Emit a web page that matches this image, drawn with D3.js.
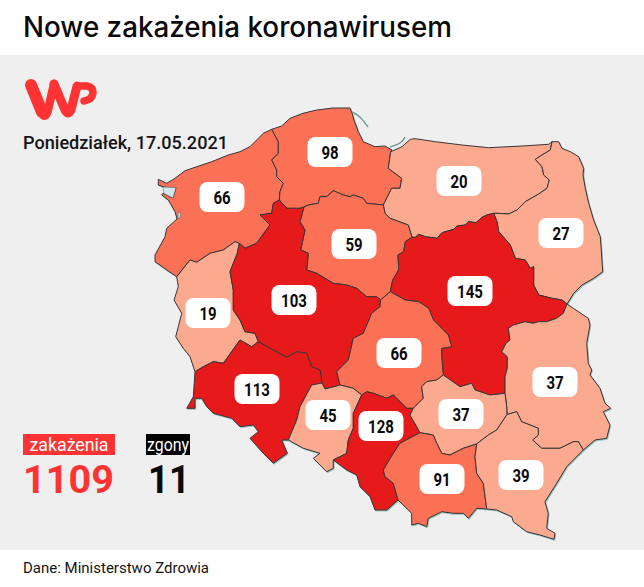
<!DOCTYPE html>
<html><head><meta charset="utf-8">
<script src="https://cdn.jsdelivr.net/npm/d3@7/dist/d3.min.js"></script>
<style>html,body{margin:0;padding:0;background:#fff}svg{display:block}text{font-family:Roboto,sans-serif}</style>
</head><body><svg id="c" width="644" height="587"></svg>
<script>
const titleText = "Nowe zakażenia koronawirusem";
const dateText = "Poniedziałek, 17.05.2021";
const sourceText = "Dane: Ministerstwo Zdrowia";
const infectionsLabel = "zakażenia", deathsLabel = "zgony";
const infectionsTotal = 1109, deathsTotal = 11;

const regionNames = ["zachodniopomorskie","pomorskie","warmińsko-mazurskie","podlaskie","kujawsko-pomorskie","mazowieckie","lubuskie","wielkopolskie","łódzkie","lubelskie","dolnośląskie","opolskie","śląskie","świętokrzyskie","małopolskie","podkarpackie"];
const regionCases = [66,98,20,27,59,145,19,103,66,37,113,45,128,37,91,39];
const labelX = [222,330,459,561,354,470,208,294,399,555,257,328,381,461,442,521];
const labelY = [197,152,181,233,244,291,313,300,353,382,389,415,426,414,479,475];

// Shared borders (pixel space of the map)
const coastZach = [[271.7,129.3],[263.3,133.3],[250,146.7],[240,151.7],[228.3,155],[211.7,161.7],[185,170.7],[175,178.3],[166.7,183.3],[158.3,179.3],[158.3,185],[165,187.3],[176,188],[173,198],[163,193.3],[161.7,195],[168.3,200],[175,211.7],[177,219],[166.7,228.3],[165,236.7],[155,255],[155,261.7],[166.7,270],[176.7,276.7]];
const zachLub = [[176.7,276.7],[190,260],[196.7,262.3],[210,253.3],[223.3,250],[235,241.7],[239.3,243.3]];
const zachWielk = [[239.3,243.3],[245,248.3],[256.7,243.3],[265,231.7],[270,225],[260,215],[271.7,213.3],[273.3,203.3],[279.3,200]];
const zachPom = [[279.3,200],[280,191.7],[283.3,183.3],[276.7,176.7],[276.7,170],[271.7,160],[278.3,153.3],[278.3,141.7],[271.7,129.3]];
const lubWielk = [[239.3,243.3],[237.3,253.3],[230,271.7],[233.3,290],[233.3,310],[240,320],[245,331.7],[255,333.3],[258.3,341.7]];
const lubDol = [[258.3,341.7],[251.7,346.7],[240,340],[223.3,363.3],[213.3,361.7],[203.3,366.7],[195,371.7]];
const outerLub = [[195,371.7],[190,356.7],[183.3,348.3],[175.7,336.7],[178.3,326.7],[181.7,313.3],[174,300],[178.3,286.7],[176.7,276.7]];
const wielkPom = [[279.3,200],[286.7,208.3],[300,208.3],[304,207]];
const wielkKuj = [[304,207],[300,221.7],[305,230],[300.7,250],[308.3,253.3],[306.7,270],[316.7,273.3],[333.3,283.3],[346.7,285],[356.7,288.3],[366.7,296.7],[376.7,296.7],[380.5,300]];
const wielkLodz = [[380.5,300],[380,306.7],[371.7,313.3],[363.3,333.3],[353.3,338.3],[348.3,360],[336.7,371.7],[340,385]];
const wielkOpole = [[340,385],[336.7,386],[325,389],[322,383]];
const wielkDol = [[258.3,341.7],[273.3,350],[286.7,357.3],[296.7,351.7],[306.7,353.3],[311.7,366.7],[320,370],[322,383]];
const opoleDol = [[288.3,440],[296.7,420],[300,406.7],[311.7,385],[322,383]];
const lodzOpole = [[340,385],[353.3,388.3],[361.7,395]];
const opoleSl = [[361.7,395],[353.3,413.3],[353.3,428.3],[348.3,440],[346.7,453.3],[333.3,460]];
const outerOpole = [[333.3,460],[333.3,468.3],[326.7,471.7],[313.3,458.3],[320,453.3],[303.3,448.3],[288.3,440]];
const outerDol = [[288.3,440],[281.7,440],[287.3,453.3],[273.3,463.3],[263.3,453.3],[250,438.3],[258.3,431.7],[253.3,425],[240,426.7],[231.7,418.3],[213.3,413.3],[206.7,406.7],[201.7,398.3],[195,398.3],[195,408.3],[186.7,408.3],[193.3,396.7],[195,371.7]];
const coastPom = [[271.7,129.3],[281.7,126],[290,118.3],[303,113.3],[316.7,110],[333,108],[350,108],[352.3,114],[354,120],[358.3,131.7],[363.3,141.7],[375,146.7],[385,146],[392,150],[390.7,151.7]];
const pomWarm = [[390.7,151.7],[388.3,168.3],[401.7,178.3],[400,188.3],[391.7,188.3],[383.3,205]];
const pomKuj = [[383.3,205],[366.7,203.3],[363.3,198.3],[353.3,195],[350,196.7],[343.3,195],[333.3,190.7],[326.7,196.7],[320,196.7],[318.3,203.3],[308.3,205],[304,207]];
const kujWarm = [[383.3,205],[385,213.3],[390,218.3],[408.3,225],[412,237.3]];
const kujMaz = [[412,237.3],[405.3,241.7],[403.7,251.7],[398,255],[398.7,270],[392.7,280],[390.3,291.7]];
const kujLodz = [[390.3,291.7],[380.5,300]];
const coastWarm = [[390.7,151.7],[402,146.7],[410.3,139.3],[415.3,138.7],[435.3,141.7],[462,145],[488.7,147.7],[522,146],[548.7,144.3],[552,141.7]];
const warmPod = [[552,141.7],[550.3,150],[542,155],[535.3,159.3],[542,166.7],[543.7,175],[549.3,180],[547,188.3],[538.7,194],[525.3,201.7],[517,210],[508.7,214],[497,213.3],[493.7,213.3]];
const warmMaz = [[493.7,213.3],[487,215],[482,217.3],[476,222.7],[468.7,221.7],[465.3,225],[457,226],[453.7,229.3],[442,232.7],[437,238.3],[425.3,236.7],[418.7,234.3],[415.3,237.3],[412,237.3]];
const coastPod = [[552,141.7],[558.7,141.7],[562,148.3],[570.3,151.7],[578.7,156.7],[583.7,168.3],[583,175],[585.3,188.3],[588.7,203.3],[593.7,220],[600.3,236.7],[601.3,250],[602.7,271.7],[593.7,278.3],[582,285],[573.7,293.3],[567,304]];
const podMaz = [[493.7,213.3],[497,221.7],[498.7,231.7],[510.3,245],[515.3,258.3],[525.3,260],[530.3,268.3],[533.7,266.7],[533.7,285],[538.7,295],[552,298.3],[562,300],[567,304]];
const mazLub = [[567,304],[563.3,313.3],[556.7,318.3],[546.7,321.7],[538.3,321.7],[533.3,323.3],[525,321.7],[513.3,325],[508.3,328.3],[510,340],[506,343.3],[501.7,351.7],[507.3,356.7],[507.3,368.3],[505,376.7],[505,393.3]];
const mazSw = [[505,393.3],[490,395],[475,390],[471.7,383.3],[460,386.7],[443.3,375]];
const mazLodz = [[443.3,375],[441.7,356.7],[441.7,348.3],[451.7,346.7],[448.3,335],[433.5,320],[428.7,308.3],[418.7,301.7],[405.3,300],[390.3,291.7]];
const lodzSl = [[361.7,395],[366.7,391.7],[373.3,393.3],[386.7,398.3],[393.3,395],[400,401.7],[406.7,408.3],[413.3,408.3]];
const lodzSw = [[413.3,408.3],[423.3,398.3],[421.7,386.7],[426.7,381.7],[436.7,380],[443.3,375]];
const slSw = [[413.3,408.3],[410,415],[416.7,426.7],[420,432.7]];
const outerSl = [[333.3,460],[346.7,470],[356.7,475],[360,486.7],[370,496.7],[375,510],[386.7,510],[398,500]];
const slMal = [[398,500],[393.3,483.3],[385,476.7],[383.3,470],[393.3,453.3],[400,443.3],[420,432.7]];
const swMal = [[420,432.7],[433.3,435],[436.7,443.3],[441.7,453.3],[450,455],[463.3,448.3],[476.7,444]];
const swPk = [[476.7,444],[488.3,435],[496.7,430],[507,414.5]];
const swLub = [[505,393.3],[506.7,406.7],[507,414.5]];
const lubPk = [[507,414.5],[516.7,411.7],[521.7,421.7],[538.3,428.3],[538.3,435],[532.7,440],[541.7,448.3],[560,448.3],[573.3,441.7],[578.3,441.7],[583.3,450]];
const outerLubel = [[567,304],[573.3,308.3],[588.3,318.3],[590,325],[586.7,343.3],[588.3,363.3],[591.7,370],[590,375],[600,388.3],[605,403.3],[610.7,408.3],[603.3,411.7],[610,425],[606.7,438.3],[595,440],[583.3,450]];
const outerPk = [[583.3,450],[566.7,466.7],[556.7,483.3],[545,501.7],[548.3,513.3],[546.7,528.3],[555,533.3],[554,539.3],[540,535],[526.7,531.7],[513.3,521.7],[511.7,516.7],[496.7,510],[486.7,509]];
const malPk = [[476.7,444],[475,456.7],[476.7,473.3],[483.3,483.3],[486.7,509]];
const outerMal = [[486.7,509],[476.7,508.3],[468.3,518.3],[463.3,513.3],[453.3,513.3],[441.7,511.7],[428.3,518.3],[426.7,526.7],[418.3,523.3],[411.7,525],[411.7,513.3],[398,500]];

// Each region's ring, given as shared borders; a second value of 1 walks the border backwards
const ringZach = [[coastZach],[zachLub],[zachWielk],[zachPom]];
const ringPom = [[coastPom],[pomWarm],[pomKuj],[wielkPom,1],[zachPom]];
const ringWarm = [[coastWarm],[warmPod],[warmMaz],[kujWarm,1],[pomWarm,1]];
const ringPodl = [[coastPod],[podMaz,1],[warmPod,1]];
const ringKuj = [[pomKuj,1],[kujWarm],[kujMaz],[kujLodz],[wielkKuj,1]];
const ringMaz = [[podMaz],[mazLub],[mazSw],[mazLodz],[kujMaz,1],[warmMaz,1]];
const ringLub = [[zachLub],[lubWielk],[lubDol],[outerLub]];
const ringWielk = [[wielkPom],[wielkKuj],[wielkLodz],[wielkOpole],[wielkDol,1],[lubWielk,1],[zachWielk]];
const ringLodz = [[kujLodz],[wielkLodz],[lodzOpole],[lodzSl],[lodzSw],[mazLodz]];
const ringLubel = [[mazLub,1],[outerLubel],[lubPk,1],[swLub,1]];
const ringDol = [[lubDol,1],[wielkDol],[opoleDol,1],[outerDol]];
const ringOpole = [[wielkOpole,1],[lodzOpole],[opoleSl],[outerOpole],[opoleDol]];
const ringSl = [[lodzSl,1],[opoleSl],[outerSl],[slMal],[slSw]];
const ringSw = [[lodzSw],[mazSw,1],[swLub],[swPk,1],[swMal,1],[slSw,1]];
const ringMal = [[swMal],[malPk],[outerMal],[slMal]];
const ringPk = [[swPk],[lubPk],[outerPk],[malPk,1]];
const regionRings = [ringZach,ringPom,ringWarm,ringPodl,ringKuj,ringMaz,ringLub,ringWielk,ringLodz,ringLubel,ringDol,ringOpole,ringSl,ringSw,ringMal,ringPk];

const lagoon = [[163,187],[176,187.5],[173,198],[164,193.5]];
const lakeSmall = [[178,212],[180.5,213],[180,218],[178,218.5]];
const helSpit = [[352,112],[358,115],[363,120],[368,127]];
const gulfShore = [[390,147],[397,145],[403,141],[405,137]];

const colour = d3.scaleThreshold().domain([50,100]).range(["#fba98f","#fb7155","#e61a1b"]);

const svg = d3.select("#c");
svg.append("rect").attr("x",0).attr("y",55).attr("width",644).attr("height",495).attr("fill","#efefef");

svg.append("text").attr("x",23).attr("y",37).attr("font-size",28).attr("fill","#0a0a0a")
  .style("font-family","Inter").attr("font-weight",500)
  .attr("textLength",429).attr("lengthAdjust","spacingAndGlyphs").text(titleText);

// logo
const logo = svg.append("g").attr("fill","none").attr("stroke","#ff3333").attr("stroke-linejoin","round").attr("stroke-linecap","round");
logo.append("path").attr("stroke-width",12).attr("d","M31,85 L42,112");
logo.append("path").attr("stroke-width",8.5).attr("d","M43,115 Q46,118 48,110 L54,84");
logo.append("path").attr("stroke-width",9).attr("d","M54,84 L65,110 Q68,116 71,110 L77,86");
logo.append("path").attr("stroke-width",7.5).attr("d","M77,86 L87,86 Q93,87 93,93 Q92,100 84,101");

svg.append("text").attr("x",23).attr("y",149).attr("font-size",17.5).attr("font-weight",500).attr("fill","#141414")
  .attr("textLength",205).attr("lengthAdjust","spacingAndGlyphs").text(dateText);

// map
const geo = d3.geoPath(d3.geoIdentity());
const ringCoords = ring => {
  const pts = [];
  ring.forEach(([arc,rev]) => { const a = rev ? arc.slice().reverse() : arc; a.forEach(p=>pts.push(p)); });
  pts.push(pts[0]);
  return pts;
};
const features = regionNames.map((name,i)=>({type:"Feature",properties:{name,cases:regionCases[i],lx:labelX[i],ly:labelY[i]},
  geometry:{type:"Polygon",coordinates:[ringCoords(regionRings[i])]}}));

const shadow = svg.append("g").attr("transform","translate(0.8,1)");
shadow.selectAll("path").data(features).join("path").attr("d",geo).attr("fill","#8db7b5").attr("stroke","#9fc3c2").attr("stroke-width",1);

svg.append("g").selectAll("path").data(features).join("path")
  .attr("d",geo).attr("fill",d=>colour(d.properties.cases))
  .attr("stroke","#3a3535").attr("stroke-width",1).attr("stroke-linejoin","round");

const water = d3.line();
svg.append("g").selectAll("path").data([lagoon,lakeSmall]).join("path")
  .attr("d",d=>water(d)+"Z").attr("fill","#d3e6ea").attr("stroke","#4a5a5a").attr("stroke-width",.5);
svg.append("g").selectAll("path").data([helSpit,gulfShore]).join("path")
  .attr("d",d3.line().curve(d3.curveBasis)).attr("fill","none").attr("stroke","#6f9c9c").attr("stroke-width",1.4);

// labels
const labels = svg.append("g").selectAll("g").data(features).join("g")
  .attr("transform",d=>`translate(${d.properties.lx},${d.properties.ly})`);
labels.append("rect").attr("x",-22.5).attr("y",-15).attr("width",45).attr("height",30).attr("rx",8).attr("fill","#fff");
labels.append("text").attr("text-anchor","middle").attr("y",6.8).attr("font-size",19).attr("font-weight",700).attr("fill","#0a0a0a")
  .attr("textLength",d=>String(d.properties.cases).length*8.6).attr("lengthAdjust","spacingAndGlyphs")
  .text(d=>d.properties.cases);

// totals
svg.append("rect").attr("x",23).attr("y",434).attr("width",92).attr("height",21).attr("fill","#ff3333");
svg.append("text").attr("x",69).attr("y",450.5).attr("text-anchor","middle").attr("font-size",17.5).attr("fill","#fff")
  .attr("textLength",79).attr("lengthAdjust","spacingAndGlyphs").text(infectionsLabel);
svg.append("rect").attr("x",146).attr("y",434).attr("width",44).attr("height",21).attr("fill","#000");
svg.append("text").attr("x",168).attr("y",450.5).attr("text-anchor","middle").attr("font-size",17.5).attr("fill","#fff")
  .attr("textLength",42).attr("lengthAdjust","spacingAndGlyphs").text(deathsLabel);
svg.append("text").attr("x",23).attr("y",493).attr("font-size",38).attr("font-weight",700).attr("fill","#ff3333")
  .attr("textLength",91).attr("lengthAdjust","spacingAndGlyphs").text(infectionsTotal);
svg.append("text").attr("x",148).attr("y",493).attr("font-size",38).attr("font-weight",700).attr("fill","#0a0a0a")
  .attr("textLength",42).attr("lengthAdjust","spacingAndGlyphs").text(deathsTotal);

svg.append("text").attr("x",23).attr("y",572.5).attr("font-size",15).attr("fill","#141414").text(sourceText);
</script></body></html>
